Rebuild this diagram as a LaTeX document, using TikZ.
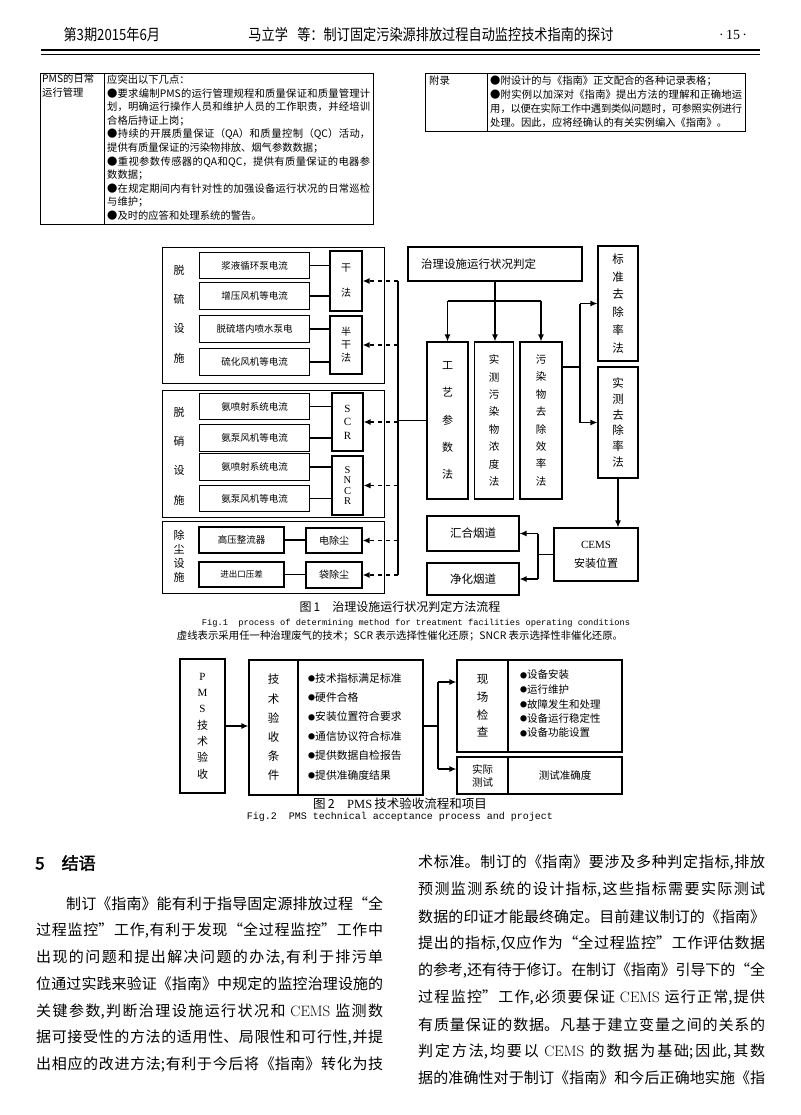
\documentclass[tikz,border=0pt]{standalone}
\usepackage{fontspec}
\usetikzlibrary{arrows.meta}
\newfontfamily\cjk{Noto Sans CJK SC}
\newfontfamily\cjkcond[FakeStretch=0.85]{Noto Sans CJK SC}
\newfontfamily\cjkbf[FakeBold=2]{Noto Sans CJK SC}
\newfontfamily\tms{Liberation Serif}
\newfontfamily\mono{Liberation Mono}
\XeTeXlinebreaklocale "zh"
\XeTeXlinebreakskip=0pt plus 1.5pt minus 0.6pt
\newcommand\fs[1]{\fontsize{#1}{#1}\selectfont}
\newcommand\fsv[2]{\fontsize{#1}{#2}\selectfont\cjk}
\newcommand\jline[2]{\parbox{#1}{\parfillskip=0pt\relax#2}}
\newcommand\sdot{\raisebox{0.8pt}{\fontsize{7}{7}\selectfont ●}}
\begin{document}
\begin{tikzpicture}[x=1pt, y=-1pt, >={Latex[length=7pt,width=6pt]},
  cell/.style={draw, line width=1.1pt, inner sep=0pt, align=center, font=\fs{9.5}\cjk},
  grp/.style={draw, line width=1pt, inner sep=0pt},
  tabbox/.style={draw, line width=1.2pt, inner sep=0pt, anchor=north west},
  link/.style={line width=1.2pt},
  arr/.style={line width=1.3pt, ->},
  dlink/.style={line width=1.8pt, dash pattern=on 4.5pt off 3.5pt, ->},
  tline/.style={anchor=west, inner sep=0pt}]
\fill[white] (0,0) rectangle (800,1115);
\useasboundingbox (0,0) rectangle (800,1115);

% running head
\node[anchor=west, font=\cjkcond\fs{15.5}] (hdate) at (60,35) {第3期2015年6月};
\node[font=\cjkcond\fs{15.5}] (htitle) at (431,35) {马立学\hspace{0.6em}等：制订固定污染源排放过程自动监控技术指南的探讨};
\node[font=\tms\fs{14}] (hpage) at (733,35) {·\,15\,·};
\draw[line width=1.6pt] (41,50) -- (760,50);
\draw[line width=0.6pt] (41,54) -- (760,54);

% end of the table, left
\node[tabbox, minimum width=64pt, minimum height=151pt] (tla) at (40,73) {};
\node[tabbox, minimum width=269pt, minimum height=151pt] (tlb) at (104,73) {};
\node[anchor=north west, align=left, inner sep=0pt, font=\fsv{10.3}{14}] (tlabel) at (42,74) {PMS的日常\\运行管理};
\foreach \t [count=\i from 0] in {{应突出以下几点：},
  {\jline{263pt}{●要求编制PMS的运行管理规程和质量保证和质量管理计}},
  {\jline{263pt}{划，明确运行操作人员和维护人员的工作职责，并经培训}},
  {合格后持证上岗；},
  {\jline{263pt}{●持续的开展质量保证（QA）和质量控制（QC）活动，}},
  {提供有质量保证的污染物排放、烟气参数数据；},
  {\jline{263pt}{●重视参数传感器的QA和QC，提供有质量保证的电器参}},
  {数数据；},
  {\jline{263pt}{●在规定期间内有针对性的加强设备运行状况的日常巡检}},
  {与维护；},
  {●及时的应答和处理系统的警告。}}
  \node[tline, font=\fs{10.3}\cjk] (tl\i) at (107,80+13.6*\i) {\t};

% end of the table, right
\node[tabbox, minimum width=62pt, minimum height=58pt] (tra) at (425,73) {};
\node[tabbox, minimum width=258pt, minimum height=58pt] (trb) at (487,73) {};
\node[tline, font=\fs{10.3}\cjk] (trlabel) at (429,81) {附录};
\foreach \t [count=\i from 0] in {{●附设计的与《指南》正文配合的各种记录表格；},
  {\jline{252pt}{●附实例以加深对《指南》提出方法的理解和正确地运}},
  {\jline{252pt}{用，以便在实际工作中遇到类似问题时，可参照实例进行}},
  {处理。因此，应将经确认的有关实例编入《指南》。}}
  \node[tline, font=\fs{10.3}\cjk] (tr\i) at (490,81+14*\i) {\t};

% Fig. 1
\node[grp, minimum width=222pt, minimum height=136pt] (gS) at (273,315) {};
\node[grp, minimum width=222pt, minimum height=127pt] (gN) at (273,453.5) {};
\node[grp, minimum width=222pt, minimum height=72pt] (gD) at (273,557) {};
\node[align=center, font=\fsv{11}{29.3}] (lS) at (179,314) {脱\\硫\\设\\施};
\node[align=center, font=\fsv{11}{29.3}] (lN) at (179,456) {脱\\硝\\设\\施};
\node[align=center, font=\fsv{11}{14}] (lD) at (179,556) {除\\尘\\设\\施};

\foreach \n/\y/\t in {s1/265.5/浆液循环泵电流, s2/296/增压风机等电流, s3/329/脱硫塔内喷水泵电, s4/362/硫化风机等电流,
  n1/406.5/氨喷射系统电流, n2/438/氨泵风机等电流, n3/467/氨喷射系统电流, n4/498.5/氨泵风机等电流}
  \node[cell, minimum width=110pt, minimum height=26.5pt] (\n) at (254.5,\y) {\t};
\node[cell, minimum width=85pt, minimum height=26pt] (d1) at (241.5,540) {高压整流器};
\node[cell, minimum width=85pt, minimum height=25pt, font=\fs{8.5}\cjk] (d2) at (241.5,574.5) {进出口压差};

\node[cell, minimum width=32pt, minimum height=60pt, font=\fsv{10}{25}] (gan) at (346,281) {干\\法};
\node[cell, minimum width=32pt, minimum height=58pt, font=\fsv{10}{13}] (bgan) at (346,345) {半\\干\\法};
\node[cell, minimum width=31pt, minimum height=58pt, font=\fontsize{11}{13.5}\selectfont\tms] (scr) at (347.5,422) {S\\C\\R};
\node[cell, minimum width=31pt, minimum height=59pt, font=\fontsize{10.5}{10.4}\selectfont\tms] (sncr) at (347.5,485.5) {S\\N\\C\\R};
\node[cell, minimum width=56pt, minimum height=25pt, font=\fs{10}\cjk] (dcc) at (334,540.5) {电除尘};
\node[cell, minimum width=56pt, minimum height=26pt, font=\fs{10}\cjk] (dcb) at (334,575) {袋除尘};

\foreach \a/\b in {s1/gan, s2/gan, s3/bgan, s4/bgan, n1/scr, n2/scr, n3/sncr, n4/sncr, d1/dcc, d2/dcb}
  \draw[link] (\a.east) -- (\a.east -| \b.west);

\coordinate (busT) at (398,281);
\coordinate (busB) at (398,575);
\draw[link, line width=1.4pt] (busT) -- (busB);
\foreach \m in {gan, bgan, scr, sncr, dcc, dcb}
  \draw[dlink] (\m.east -| busT) -- (\m.east);

\node[cell, text width=148pt, inner xsep=13pt, minimum height=34pt, align=left, font=\fs{11.5}\cjk] (pd) at (495,264) {治理设施运行状况判定};
\node[cell, minimum width=41pt, minimum height=157pt, font=\fsv{11}{27.2}] (gy) at (447.5,420.5) {工\\艺\\参\\数\\法};
\node[cell, minimum width=39pt, minimum height=157pt, font=\fsv{10.5}{17.4}] (sc) at (494,420.5) {实\\测\\污\\染\\物\\浓\\度\\法};
\node[cell, minimum width=42pt, minimum height=157pt, font=\fsv{10.5}{17.4}] (wr) at (541,420.5) {污\\染\\物\\去\\除\\效\\率\\法};
\node[cell, minimum width=40pt, minimum height=115pt, font=\fsv{11.5}{17.8}] (bz) at (618,303.5) {标\\准\\去\\除\\率\\法};
\node[cell, minimum width=40pt, minimum height=111pt, font=\fsv{11.5}{15.8}] (sq) at (618,422.5) {实\\测\\去\\除\\率\\法};
\node[cell, minimum width=84pt, minimum height=53pt, font=\fsv{11}{19}] (cems) at (596,554.5) {{\tms CEMS}\\安装位置};
\node[cell, minimum width=92pt, minimum height=35pt, font=\fs{11.5}\cjk] (hh) at (473,533.5) {汇合烟道};
\node[cell, minimum width=92pt, minimum height=32pt, font=\fs{11.5}\cjk] (jh) at (473,579) {净化烟道};

\draw[link, line width=1.4pt] (gy.west) -- (gy.west -| busT);
\draw[arr] (pd.south) -- (pd.south |- sc.north);
\coordinate (br) at (495,301);
\draw[link] (gy.north |- br) -- (wr.north |- br);
\draw[arr] (gy.north |- br) -- (gy.north);
\draw[arr] (wr.north |- br) -- (wr.north);
\coordinate (sp) at (580,367);
\draw[link] (wr.east |- sp) -- (sp);
\draw[link] (sp |- bz.west) -- (sp |- sq.west);
\draw[arr] (sp |- bz.west) -- (bz.west);
\draw[arr] (sp |- sq.west) -- (sq.west);
\draw[arr] (sq.south) -- (sq.south |- cems.north);
\coordinate (cj) at (538,554.5);
\draw[link] (cems.west) -- (cj);
\draw[link] (cj |- hh.east) -- (cj |- jh.east);
\draw[arr] (cj |- hh.east) -- (hh.east);
\draw[arr] (cj |- jh.east) -- (jh.east);

\node[font=\fs{12}\cjk] (cap1) at (400,607) {图\,1\quad 治理设施运行状况判定方法流程};
\node[font=\mono\fs{8.7}] (cap1e) at (416,623) {Fig.1\ \ process of determining method for treatment facilities operating conditions};
\node[font=\fs{10.4}\cjk] (note1) at (400,636) {虚线表示采用任一种治理废气的技术；SCR 表示选择性催化还原；SNCR 表示选择性非催化还原。};

% Fig. 2
\node[cell, minimum width=45pt, minimum height=134pt, font=\fsv{11}{16.3}] (pms) at (202.5,726) {{\tms P}\\{\tms M}\\{\tms S}\\技\\术\\验\\收};
\node[cell, line width=1.2pt, minimum width=49pt, minimum height=135pt, font=\fsv{11.5}{19.2}] (tjL) at (273.5,727.5) {技\\术\\验\\收\\条\\件};
\node[cell, line width=1.2pt, minimum width=125pt, minimum height=135pt] (tjR) at (360.5,727.5) {};
\foreach \t [count=\i from 0] in {技术指标满足标准, 硬件合格, 安装位置符合要求, 通信协议符合标准, 提供数据自检报告, 提供准确度结果}
  \node[tline, font=\fs{10.8}\cjk] (tj\i) at (308,678+19.4*\i) {\sdot\t};
\node[cell, line width=1.2pt, minimum width=51pt, minimum height=92pt, font=\fsv{11.5}{17.7}] (xcL) at (482.5,706) {现\\场\\检\\查};
\node[cell, line width=1.2pt, minimum width=114pt, minimum height=92pt] (xcR) at (565,706) {};
\foreach \t [count=\i from 0] in {设备安装, 运行维护, 故障发生和处理, 设备运行稳定性, 设备功能设置}
  \node[tline, font=\fs{10.5}\cjk] (xc\i) at (520,675+14.5*\i) {\sdot\t};
\node[cell, line width=1.2pt, minimum width=51pt, minimum height=37pt, font=\fsv{10.5}{13}] (sjL) at (482.5,775.5) {实际\\测试};
\node[cell, line width=1.2pt, minimum width=114pt, minimum height=37pt, font=\fs{10.5}\cjk] (sjR) at (565,775.5) {测试准确度};

\draw[arr] (pms.east) -- (pms.east -| tjL.west);
\coordinate (tk) at (438,726);
\draw[link] (tjR.east |- tk) -- (tk);
\draw[link] (tk |- 0,682) -- (tk |- 0,769);
\draw[arr] (tk |- 0,682) -- (xcL.west |- 0,682);
\draw[arr] (tk |- 0,769) -- (sjL.west |- 0,769);

\node[font=\fs{12.5}\cjk] (cap2) at (400,804) {图\,2\quad {\tms PMS}\,技术验收流程和项目};
\node[font=\mono\fs{10}] (cap2e) at (400,817) {Fig.2\ \ PMS technical acceptance process and project};

% text
\node[tline, font=\cjkbf\fs{17}] (sec5) at (35,863) {5\quad 结语};
\foreach \t [count=\i from 0] in {{\hspace*{2em}制订《指南》能有利于指导固定源排放过程“全},
  {过程监控”工作,有利于发现“全过程监控”工作中},
  {出现的问题和提出解决问题的办法,有利于排污单},
  {位通过实践来验证《指南》中规定的监控治理设施的},
  {关键参数,判断治理设施运行状况和 {\rmfamily CEMS} 监测数},
  {据可接受性的方法的适用性、局限性和可行性,并提},
  {出相应的改进方法;有利于今后将《指南》转化为技}}
  \node[tline, font=\fs{15}\cjk] (pl\i) at (36,903.5+26.9*\i) {\jline{347pt}{\t}};
\foreach \t [count=\i from 0] in {{术标准。制订的《指南》要涉及多种判定指标,排放},
  {预测监测系统的设计指标,这些指标需要实际测试},
  {数据的印证才能最终确定。目前建议制订的《指南》},
  {提出的指标,仅应作为“全过程监控”工作评估数据},
  {的参考,还有待于修订。在制订《指南》引导下的“全},
  {过程监控”工作,必须要保证 {\rmfamily CEMS} 运行正常,提供},
  {有质量保证的数据。凡基于建立变量之间的关系的},
  {判定方法,均要以 {\rmfamily CEMS} 的数据为基础;因此,其数},
  {据的准确性对于制订《指南》和今后正确地实施《指}}
  \node[tline, font=\fs{15}\cjk] (pr\i) at (418,863+26.9*\i) {\jline{347pt}{\t}};
\end{tikzpicture}
\end{document}
